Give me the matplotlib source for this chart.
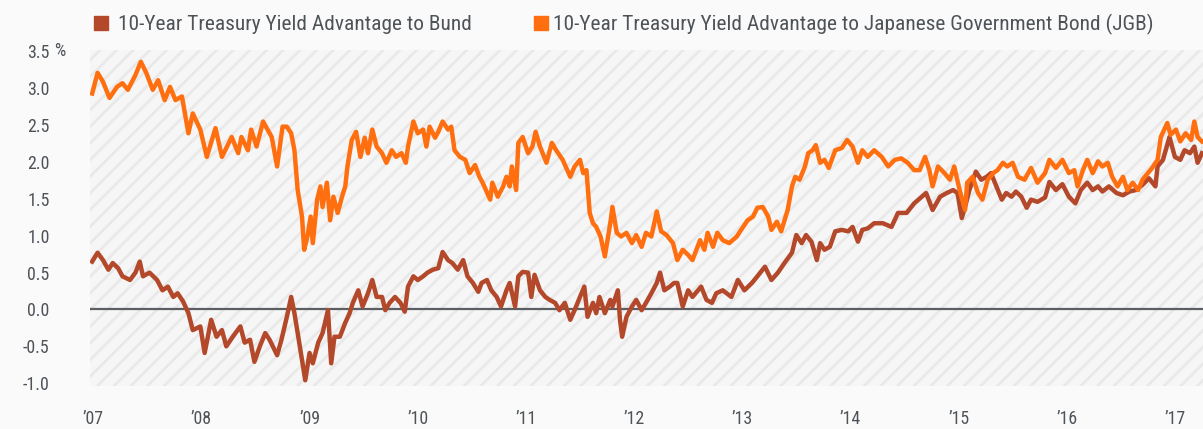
import matplotlib
matplotlib.use("Agg")
import matplotlib.pyplot as plt
from matplotlib import font_manager
from matplotlib.patches import Rectangle

# pick the narrowest installed face we can find, falling back to Roboto
installed = {f.name for f in font_manager.fontManager.ttflist}
face = "DejaVu Sans"
for name in ["Roboto Condensed", "Liberation Sans Narrow", "Arial Narrow", "Roboto"]:
    if name in installed:
        face = name
        break
plt.rcParams["font.family"] = [face, "DejaVu Sans"]
plt.rcParams["hatch.color"] = "#E9E9E9"
plt.rcParams["hatch.linewidth"] = 2.0

# -------------------------------------------------------------------------------
# values (decimal year, percent)
bund_t = [
    2007.02, 2007.07, 2007.12, 2007.17, 2007.21, 2007.26, 2007.30, 2007.37, 2007.42, 2007.46,
    2007.49, 2007.55, 2007.62, 2007.67, 2007.72, 2007.77, 2007.81, 2007.86, 2007.91, 2007.95,
    2008.02, 2008.06, 2008.12, 2008.17, 2008.22, 2008.26, 2008.32, 2008.39, 2008.43, 2008.48,
    2008.52, 2008.57, 2008.62, 2008.66, 2008.73, 2008.77, 2008.82, 2008.86, 2008.89, 2008.92,
    2008.96, 2008.99, 2009.03, 2009.06, 2009.11, 2009.15, 2009.20, 2009.23, 2009.26, 2009.31,
    2009.36, 2009.40, 2009.43, 2009.48, 2009.52, 2009.57, 2009.61, 2009.65, 2009.70, 2009.73,
    2009.77, 2009.82, 2009.87, 2009.91, 2009.94, 2009.99, 2010.03, 2010.08, 2010.12, 2010.17,
    2010.22, 2010.26, 2010.31, 2010.35, 2010.40, 2010.45, 2010.49, 2010.54, 2010.59, 2010.62,
    2010.67, 2010.71, 2010.76, 2010.80, 2010.85, 2010.88, 2010.93, 2010.96, 2011.00, 2011.05,
    2011.08, 2011.11, 2011.16, 2011.21, 2011.25, 2011.30, 2011.34, 2011.39, 2011.44, 2011.48,
    2011.53, 2011.57, 2011.60, 2011.65, 2011.68, 2011.71, 2011.76, 2011.81, 2011.83, 2011.88,
    2011.90, 2011.92, 2011.96, 2012.01, 2012.05, 2012.10, 2012.14, 2012.19, 2012.24, 2012.27,
    2012.31, 2012.36, 2012.40, 2012.43, 2012.48, 2012.53, 2012.57, 2012.65, 2012.70, 2012.75,
    2012.79, 2012.85, 2012.93, 2012.99, 2013.05, 2013.12, 2013.17, 2013.24, 2013.30, 2013.36,
    2013.42, 2013.49, 2013.53, 2013.58, 2013.62, 2013.67, 2013.72, 2013.75, 2013.79, 2013.84,
    2013.89, 2013.95, 2014.01, 2014.05, 2014.10, 2014.14, 2014.19, 2014.25, 2014.33, 2014.41,
    2014.47, 2014.55, 2014.62, 2014.69, 2014.73, 2014.79, 2014.86, 2014.92, 2014.98, 2015.02,
    2015.06, 2015.09, 2015.13, 2015.19, 2015.24, 2015.29, 2015.33, 2015.38, 2015.43, 2015.47,
    2015.52, 2015.56, 2015.61, 2015.66, 2015.70, 2015.76, 2015.83, 2015.87, 2015.93, 2015.99,
    2016.05, 2016.11, 2016.16, 2016.22, 2016.27, 2016.32, 2016.36, 2016.42, 2016.49, 2016.55,
    2016.61, 2016.67, 2016.73, 2016.79, 2016.85, 2016.87, 2016.92, 2016.98, 2017.03, 2017.08,
    2017.12, 2017.17, 2017.21, 2017.24, 2017.28,
]
bund_v = [
    0.65, 0.77, 0.67, 0.54, 0.63, 0.56, 0.45, 0.40, 0.50, 0.65,
    0.45, 0.50, 0.40, 0.26, 0.31, 0.17, 0.22, 0.11, -0.05, -0.28,
    -0.23, -0.59, -0.14, -0.37, -0.28, -0.50, -0.37, -0.23, -0.45, -0.41,
    -0.71, -0.50, -0.32, -0.41, -0.62, -0.41, -0.10, 0.17, -0.05, -0.32,
    -0.69, -0.96, -0.59, -0.73, -0.45, -0.32, -0.01, -0.73, -0.37, -0.37,
    -0.18, -0.05, 0.09, 0.26, 0.04, 0.22, 0.40, 0.17, 0.17, -0.01,
    0.09, 0.17, 0.09, -0.03, 0.31, 0.45, 0.40, 0.45, 0.50, 0.54,
    0.56, 0.78, 0.67, 0.63, 0.54, 0.67, 0.45, 0.36, 0.24, 0.36,
    0.40, 0.26, 0.17, 0.04, 0.26, 0.36, 0.04, 0.45, 0.51, 0.50,
    0.17, 0.47, 0.26, 0.17, 0.13, 0.09, -0.01, 0.09, -0.14, -0.01,
    0.17, 0.31, -0.10, 0.09, -0.05, 0.17, -0.05, 0.13, 0.04, 0.26,
    -0.14, -0.37, -0.10, 0.04, 0.13, -0.01, 0.09, 0.22, 0.36, 0.50,
    0.26, 0.31, 0.36, 0.36, 0.04, 0.26, 0.17, 0.31, 0.13, 0.09,
    0.22, 0.26, 0.17, 0.40, 0.26, 0.36, 0.45, 0.58, 0.40, 0.50,
    0.63, 0.77, 1.01, 0.90, 1.01, 0.92, 0.67, 0.90, 0.81, 0.85,
    1.06, 1.08, 1.06, 1.12, 0.92, 1.08, 1.10, 1.17, 1.17, 1.12,
    1.31, 1.31, 1.44, 1.53, 1.58, 1.35, 1.53, 1.58, 1.62, 1.58,
    1.24, 1.39, 1.62, 1.87, 1.76, 1.80, 1.85, 1.67, 1.49, 1.58,
    1.53, 1.60, 1.53, 1.38, 1.49, 1.46, 1.52, 1.73, 1.62, 1.70,
    1.53, 1.44, 1.62, 1.72, 1.62, 1.67, 1.60, 1.67, 1.58, 1.55,
    1.60, 1.62, 1.69, 1.78, 1.67, 1.94, 2.03, 2.34, 2.07, 2.03,
    2.16, 2.12, 2.21, 1.99, 2.12,
]

jgb_t = [
    2007.02, 2007.07, 2007.12, 2007.18, 2007.25, 2007.30, 2007.35, 2007.42, 2007.47, 2007.52,
    2007.58, 2007.63, 2007.69, 2007.74, 2007.79, 2007.85, 2007.91, 2007.95, 2008.02, 2008.08,
    2008.16, 2008.22, 2008.31, 2008.37, 2008.40, 2008.46, 2008.49, 2008.54, 2008.60, 2008.68,
    2008.73, 2008.78, 2008.82, 2008.86, 2008.89, 2008.92, 2008.96, 2008.98, 2009.01, 2009.04,
    2009.06, 2009.10, 2009.13, 2009.15, 2009.19, 2009.22, 2009.25, 2009.29, 2009.33, 2009.36,
    2009.38, 2009.42, 2009.46, 2009.50, 2009.54, 2009.57, 2009.61, 2009.65, 2009.70, 2009.74,
    2009.79, 2009.83, 2009.88, 2009.92, 2009.94, 2009.99, 2010.03, 2010.08, 2010.11, 2010.14,
    2010.19, 2010.22, 2010.26, 2010.31, 2010.34, 2010.37, 2010.42, 2010.47, 2010.51, 2010.56,
    2010.60, 2010.63, 2010.70, 2010.72, 2010.77, 2010.82, 2010.85, 2010.88, 2010.90, 2010.94,
    2010.96, 2011.00, 2011.05, 2011.09, 2011.12, 2011.16, 2011.22, 2011.27, 2011.31, 2011.37,
    2011.44, 2011.48, 2011.53, 2011.56, 2011.59, 2011.62, 2011.65, 2011.68, 2011.72, 2011.76,
    2011.81, 2011.83, 2011.87, 2011.91, 2011.96, 2012.01, 2012.05, 2012.10, 2012.14, 2012.19,
    2012.24, 2012.28, 2012.33, 2012.39, 2012.43, 2012.48, 2012.53, 2012.57, 2012.64, 2012.68,
    2012.71, 2012.76, 2012.80, 2012.85, 2012.91, 2012.98, 2013.02, 2013.08, 2013.13, 2013.17,
    2013.22, 2013.27, 2013.30, 2013.35, 2013.39, 2013.45, 2013.49, 2013.52, 2013.56, 2013.61,
    2013.64, 2013.68, 2013.71, 2013.75, 2013.79, 2013.83, 2013.89, 2013.95, 2014.00, 2014.05,
    2014.10, 2014.14, 2014.19, 2014.25, 2014.32, 2014.38, 2014.44, 2014.50, 2014.56, 2014.62,
    2014.67, 2014.72, 2014.76, 2014.79, 2014.84, 2014.90, 2014.95, 2014.99, 2015.04, 2015.09,
    2015.11, 2015.16, 2015.21, 2015.25, 2015.30, 2015.35, 2015.39, 2015.44, 2015.48, 2015.53,
    2015.58, 2015.64, 2015.70, 2015.76, 2015.83, 2015.87, 2015.93, 2015.99, 2016.05, 2016.10,
    2016.13, 2016.18, 2016.22, 2016.27, 2016.32, 2016.36, 2016.41, 2016.45, 2016.50, 2016.55,
    2016.59, 2016.64, 2016.69, 2016.73, 2016.78, 2016.82, 2016.87, 2016.90, 2016.96, 2016.99,
    2017.04, 2017.08, 2017.13, 2017.18, 2017.21, 2017.24, 2017.28,
]
jgb_v = [
    2.93, 3.21, 3.09, 2.87, 3.02, 3.07, 2.98, 3.18, 3.36, 3.21,
    2.98, 3.11, 2.84, 3.02, 2.84, 2.89, 2.39, 2.66, 2.44, 2.07,
    2.46, 2.07, 2.34, 2.12, 2.34, 2.16, 2.44, 2.21, 2.55, 2.34,
    1.94, 2.48, 2.48, 2.39, 2.16, 1.62, 1.26, 0.81, 0.99, 1.26,
    0.90, 1.49, 1.67, 1.39, 1.72, 1.21, 1.53, 1.31, 1.53, 1.67,
    1.94, 2.30, 2.41, 2.07, 2.33, 2.12, 2.44, 2.21, 2.12, 1.99,
    2.16, 2.07, 2.12, 1.99, 2.21, 2.55, 2.39, 2.44, 2.21, 2.48,
    2.33, 2.41, 2.55, 2.44, 2.48, 2.16, 2.07, 2.03, 1.85, 1.96,
    1.80, 1.72, 1.49, 1.72, 1.53, 1.67, 1.80, 1.67, 1.94, 1.62,
    2.26, 2.34, 2.12, 2.21, 2.41, 2.21, 1.99, 2.26, 2.16, 2.03,
    1.80, 1.94, 2.03, 1.85, 1.89, 1.31, 1.17, 1.12, 0.99, 0.72,
    1.17, 1.39, 1.04, 0.99, 1.04, 0.90, 1.01, 0.85, 1.04, 0.99,
    1.33, 1.06, 1.01, 0.90, 0.67, 0.81, 0.74, 0.67, 0.94, 0.81,
    1.04, 0.85, 1.04, 0.94, 0.90, 0.99, 1.08, 1.21, 1.26, 1.38,
    1.39, 1.26, 1.08, 1.19, 1.06, 1.35, 1.67, 1.80, 1.76, 1.94,
    2.12, 2.16, 2.23, 1.99, 2.03, 1.92, 2.16, 2.19, 2.30, 2.21,
    1.99, 2.16, 2.07, 2.16, 2.07, 1.94, 2.03, 2.05, 1.99, 1.89,
    1.89, 2.07, 1.89, 1.67, 1.94, 1.85, 1.76, 1.94, 1.62, 1.35,
    1.72, 1.80, 1.58, 1.49, 1.76, 1.85, 1.89, 1.99, 1.94, 1.99,
    1.80, 1.76, 1.92, 1.72, 1.85, 2.03, 1.92, 2.03, 1.85, 1.89,
    1.67, 1.89, 2.03, 1.85, 2.01, 1.94, 1.99, 1.80, 1.67, 1.80,
    1.62, 1.72, 1.62, 1.76, 1.85, 1.92, 2.03, 2.34, 2.53, 2.37,
    2.44, 2.28, 2.39, 2.30, 2.55, 2.34, 2.28,
]

years = list(range(2007, 2018))
year_labels = ["\u2019%02d" % (y - 2000) for y in years]
y_ticks = [-1.0, -0.5, 0.0, 0.5, 1.0, 1.5, 2.0, 2.5, 3.0, 3.5]
y_labels = ["%.1f" % v for v in y_ticks]

label_bund = "10-Year Treasury Yield Advantage to Bund"
label_jgb = "10-Year Treasury Yield Advantage to Japanese Government Bond (JGB)"

# -------------------------------------------------------------------------------
c_bund = "#B4482A"
c_jgb = "#FF6F10"
c_text = "#4E5358"

W, H = 1203, 429
fig = plt.figure(figsize=(W / 100, H / 100), dpi=100, facecolor="#FAFAFA")
renderer = fig.canvas.get_renderer()


def fit_size(text, target_px, start=14.0):
    # font size that makes `text` about target_px wide in the chosen face
    t = fig.text(0, 0, text, fontsize=start)
    w = t.get_window_extent(renderer).width
    t.remove()
    return start * target_px / w


legend_fs = min(fit_size(label_bund, 356), 15.5)
tick_fs = min(fit_size("-1.0", 27), 14.0)

ax = fig.add_axes([90 / W, 43 / H, 1113 / W, 336 / H])
ax.set_facecolor("#F6F6F6")
ax.add_patch(
    Rectangle(
        (0, 0), 1, 1, transform=ax.transAxes, facecolor="#F6F6F6",
        edgecolor="#E9E9E9", hatch="//", linewidth=0, zorder=0,
    )
)

ax.axhline(0, color="#5B5F63", lw=1.6, zorder=2)
ax.plot(bund_t, bund_v, color=c_bund, lw=3.2, solid_joinstyle="round", zorder=3)
ax.plot(jgb_t, jgb_v, color=c_jgb, lw=3.2, solid_joinstyle="round", zorder=4)

ax.set_xlim(2007.0, 2017.29)
ax.set_ylim(-1.038, 3.52)
ax.set_xticks([y + 0.03 for y in years])
ax.set_xticklabels(year_labels)
ax.set_yticks(y_ticks)
ax.set_yticklabels(y_labels)
ax.tick_params(axis="both", length=0, labelsize=tick_fs, labelcolor=c_text)
ax.tick_params(axis="y", pad=29)
ax.tick_params(axis="x", pad=17)
for s in ax.spines.values():
    s.set_visible(False)

ax.annotate(
    "%", xy=(0, 3.5), xycoords=("axes fraction", "data"), xytext=(-26, 0),
    textcoords="offset points", ha="left", va="center", fontsize=tick_fs, color=c_text,
)

# legend drawn by hand to match the reference placement
fig.add_artist(Rectangle((94 / W, 1 - 30 / H), 14 / W, 14 / H, transform=fig.transFigure,
                         color=c_bund))
fig.text(118 / W, 1 - 24 / H, label_bund, ha="left", va="center", fontsize=legend_fs,
         color=c_text)
fig.add_artist(Rectangle((534 / W, 1 - 30 / H), 14 / W, 14 / H, transform=fig.transFigure,
                         color=c_jgb))
fig.text(553 / W, 1 - 24 / H, label_jgb, ha="left", va="center", fontsize=legend_fs,
         color=c_text)

fig.savefig("out.png", dpi=100, facecolor=fig.get_facecolor())
